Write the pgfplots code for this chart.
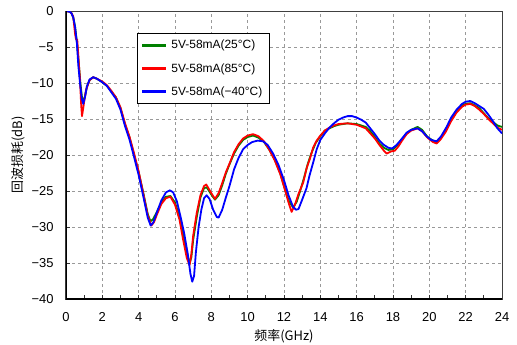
\documentclass[border=0pt]{standalone}
\usepackage{pgfplots}
\pgfplotsset{compat=1.18}
\usepackage{fontspec}
\setmainfont{Liberation Sans}
\newfontfamily\cjk{Noto Sans CJK SC}
\definecolor{mygreen}{RGB}{0,128,0}
\definecolor{myred}{RGB}{255,0,0}
\definecolor{myblue}{RGB}{0,0,255}
\begin{document}
\begin{tikzpicture}
\path[use as bounding box] (-66bp,-46bp) rectangle (451bp,299bp);
\begin{axis}[
  at={(0,0)}, anchor=south west,
  scale only axis, width=436bp, height=288bp,
  xmin=0, xmax=24, ymin=-40, ymax=0,
  xtick={0,2,...,24}, minor xtick={1,3,...,23},
  xticklabels={0,2,4,6,8,10,12,14,16,18,20,22,24},
  ytick={-40,-35,...,0},
  yticklabels={−40,−35,−30,−25,−20,−15,−10,−5,0},
  xtick pos=bottom, ytick pos=left,
  tick align=inside,
  major tick length=4bp, minor tick length=4bp,
  xtick style={draw=black!80, line width=0.8bp},
  ytick style={draw=black!80, line width=0.8bp},
  tick label style={font=\fontsize{13}{15}\selectfont},
  xticklabel style={yshift=-10bp},
  yticklabel style={xshift=-9bp},
  grid=major,
  major grid style={dash pattern=on 3bp off 3bp, draw=black!40, line width=0.8bp},
  axis line style={draw=black!75, line width=1bp},
  xlabel={\cjk 频率(GHz)},
  ylabel={\cjk 回波损耗(dB)},
  label style={font=\fontsize{13}{15}\selectfont},
  xlabel style={at={(axis description cs:0.5,-0.1285)}, anchor=center},
  ylabel style={at={(axis description cs:-0.110,0.5)}, anchor=center},
  legend style={at={(axis cs:3.9,-3.06)}, anchor=north west, draw=black,
    font=\fontsize{12}{14}\selectfont, row sep=9bp, column sep=4bp, inner xsep=5bp, inner ysep=5bp},
  legend cell align=left,
  legend image code/.code={\fill[#1] (0bp,-0.9bp) rectangle (23bp,0.9bp);},
]
\addlegendimage{color=mygreen, draw=mygreen, fill=mygreen}
\addlegendentry{5V-58mA(25°C)}
\addlegendimage{color=myred, draw=myred, fill=myred}
\addlegendentry{5V-58mA(85°C)}
\addlegendimage{color=myblue, draw=myblue, fill=myblue}
\addlegendentry{5V-58mA(−40°C)}
\addplot[forget plot, draw=mygreen, line width=1.8bp, line join=round] coordinates {
(0,0) (0.2,-0.1) (0.3,-0.3) (0.4,-0.9) (0.5,-2.2) (0.6,-4.3) (0.7,-7.2) (0.8,-10.2) (0.88,-12.0) (0.95,-12.6)
(1.05,-11.8) (1.15,-10.5) (1.3,-9.6) (1.5,-9.2) (1.7,-9.4) (2.0,-9.9) (2.25,-10.4) (2.5,-11.2) (2.75,-12.0)
(3.0,-13.5) (3.25,-15.8) (3.5,-17.6) (3.75,-20.0) (4.0,-22.4) (4.25,-25.2) (4.5,-28.2) (4.65,-29.2) (4.8,-28.9)
(5.0,-27.9) (5.25,-26.6) (5.5,-25.8) (5.75,-25.7) (6.0,-26.6) (6.25,-28.6) (6.5,-31.6) (6.7,-34.0) (6.8,-35.1)
(6.9,-34.2) (7.0,-31.8) (7.2,-28.6) (7.4,-25.9) (7.6,-24.6) (7.75,-24.5) (8.0,-25.5) (8.2,-26.2) (8.4,-25.6)
(8.6,-24.2) (8.8,-22.6) (9.0,-21.3) (9.25,-19.8) (9.5,-18.7) (9.75,-17.9) (10.0,-17.5) (10.3,-17.3) (10.6,-17.6)
(10.9,-18.2) (11.2,-19.3) (11.5,-20.7) (11.8,-22.6) (12.0,-24.3) (12.25,-26.3) (12.5,-27.3) (12.7,-26.5)
(12.9,-24.9) (13.1,-23.2) (13.3,-21.3) (13.5,-19.8) (13.75,-18.3) (14.0,-17.4) (14.25,-16.6) (14.5,-16.3)
(14.75,-16.0) (15.0,-15.8) (15.5,-15.6) (16.0,-15.7) (16.5,-16.1) (16.75,-16.7) (17.0,-17.5) (17.25,-18.4)
(17.5,-19.0) (17.75,-19.3) (18.0,-19.2) (18.25,-18.6) (18.5,-17.8) (18.75,-17.0) (19.0,-16.5) (19.35,-16.1)
(19.6,-16.5) (19.9,-17.5) (20.2,-18.0) (20.4,-18.2) (20.6,-17.7) (20.9,-16.5) (21.2,-15.1) (21.5,-13.9)
(21.8,-13.1) (22.0,-12.9) (22.25,-12.8) (22.5,-13.1) (22.75,-13.5) (23.0,-14.2) (23.25,-14.9) (23.5,-15.4)
(23.75,-15.9) (24.0,-16.1)
};
\addplot[forget plot, draw=myred, line width=1.8bp, line join=round] coordinates {
(0,0) (0.2,-0.1) (0.3,-0.3) (0.4,-0.8) (0.5,-3.2) (0.55,-3.9) (0.62,-4.0) (0.7,-7.0) (0.77,-9.5) (0.83,-12.8)
(0.88,-14.6) (0.93,-13.8) (1.0,-12.6) (1.1,-11.0) (1.3,-9.6) (1.5,-9.2) (1.7,-9.4) (2.0,-9.8) (2.25,-10.3)
(2.5,-11.1) (2.75,-12.0) (3.0,-13.4) (3.25,-15.6) (3.5,-17.5) (3.75,-19.8) (4.0,-22.3) (4.25,-25.3) (4.5,-28.4)
(4.7,-29.8) (4.85,-29.3) (5.0,-28.3) (5.25,-26.8) (5.5,-26.0) (5.75,-25.8) (6.0,-26.9) (6.25,-29.0) (6.45,-31.8)
(6.65,-34.3) (6.8,-35.3) (6.9,-33.8) (7.0,-31.2) (7.2,-28.0) (7.4,-25.6) (7.6,-24.3) (7.72,-24.1) (8.0,-25.3)
(8.2,-26.1) (8.4,-25.3) (8.6,-23.9) (8.8,-22.4) (9.0,-21.2) (9.25,-19.6) (9.5,-18.5) (9.75,-17.7) (10.0,-17.3)
(10.3,-17.1) (10.6,-17.4) (10.9,-18.1) (11.2,-19.3) (11.5,-20.8) (11.8,-22.7) (12.0,-24.4) (12.25,-26.6)
(12.42,-27.9) (12.6,-26.9) (12.8,-25.4) (13.06,-23.8) (13.25,-21.8) (13.43,-20.5) (13.6,-19.0) (13.8,-18.0)
(14.0,-17.3) (14.25,-16.6) (14.5,-16.2) (14.75,-15.9) (15.0,-15.7) (15.5,-15.6) (16.0,-15.8) (16.5,-16.3)
(16.75,-17.0) (17.0,-17.7) (17.25,-18.6) (17.5,-19.4) (17.65,-19.8) (17.9,-19.5) (18.1,-19.4) (18.3,-18.8)
(18.5,-18.0) (18.75,-17.1) (19.0,-16.6) (19.35,-16.3) (19.6,-16.7) (19.9,-17.6) (20.2,-18.2) (20.4,-18.4)
(20.6,-17.9) (20.9,-16.8) (21.2,-15.3) (21.5,-14.1) (21.8,-13.3) (22.0,-13.0) (22.25,-12.9) (22.5,-13.2)
(22.75,-13.7) (23.0,-14.3) (23.25,-15.0) (23.5,-15.6) (23.75,-16.2) (24.0,-16.5)
};
\addplot[forget plot, draw=myblue, line width=1.8bp, line join=round] coordinates {
(0,0) (0.2,-0.1) (0.3,-0.3) (0.4,-0.9) (0.5,-2.2) (0.6,-4.5) (0.68,-7.6) (0.77,-10.0) (0.87,-12.2) (0.95,-12.9)
(1.05,-11.9) (1.15,-10.5) (1.3,-9.5) (1.5,-9.2) (1.7,-9.4) (2.0,-9.9) (2.25,-10.4) (2.5,-11.3) (2.75,-12.2)
(3.0,-13.7) (3.25,-16.0) (3.5,-17.9) (3.75,-20.3) (4.0,-22.8) (4.25,-25.7) (4.5,-28.7) (4.66,-29.8) (4.8,-29.4)
(5.0,-28.0) (5.25,-26.3) (5.5,-25.2) (5.72,-24.9) (5.9,-25.2) (6.1,-26.4) (6.3,-28.5) (6.5,-30.8) (6.7,-33.7)
(6.85,-36.5) (6.95,-37.6) (7.05,-36.8) (7.15,-33.5) (7.3,-30.0) (7.45,-27.6) (7.6,-26.0) (7.74,-25.6)
(7.9,-26.1) (8.1,-27.6) (8.3,-28.6) (8.4,-28.7) (8.6,-27.6) (8.8,-25.9) (9.0,-24.3) (9.25,-22.0) (9.5,-20.4)
(9.75,-19.2) (10.0,-18.6) (10.25,-18.2) (10.55,-18.0) (10.85,-18.1) (11.1,-18.6) (11.4,-19.8) (11.7,-21.4)
(12.0,-23.5) (12.25,-25.6) (12.5,-27.2) (12.66,-27.6) (12.8,-27.5) (13.0,-26.2) (13.24,-24.6) (13.4,-22.9)
(13.61,-21.0) (13.8,-19.2) (14.0,-17.9) (14.25,-17.0) (14.5,-16.2) (14.75,-15.6) (15.0,-15.1) (15.25,-14.8)
(15.5,-14.6) (15.75,-14.6) (16.0,-14.8) (16.25,-15.1) (16.5,-15.5) (16.75,-16.3) (17.0,-17.1) (17.25,-18.0)
(17.5,-18.6) (17.75,-19.0) (17.95,-19.1) (18.2,-18.6) (18.5,-17.7) (18.75,-16.9) (19.0,-16.5) (19.35,-16.3)
(19.6,-16.7) (19.85,-17.4) (20.1,-17.9) (20.4,-18.1) (20.65,-17.4) (20.95,-16.1) (21.2,-14.8) (21.5,-13.7)
(21.8,-12.9) (22.0,-12.6) (22.25,-12.5) (22.5,-12.8) (22.75,-13.2) (23.0,-13.6) (23.25,-14.4) (23.5,-15.3)
(23.75,-16.3) (24.0,-17.0)
};
\draw[black, line width=2bp] (rel axis cs:0,1) -- (rel axis cs:0,0) -- (rel axis cs:1,0);
\end{axis}
\end{tikzpicture}
\end{document}
